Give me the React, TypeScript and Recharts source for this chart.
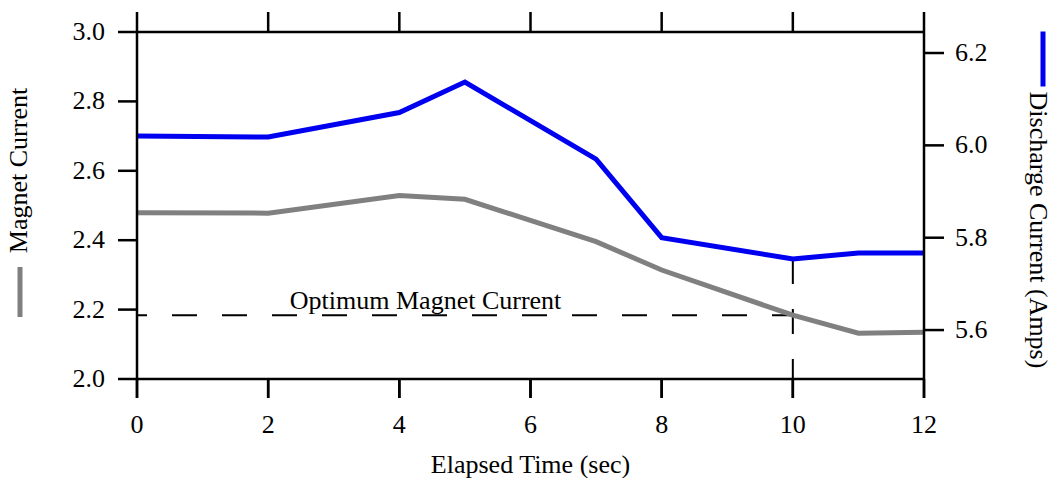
import React from 'react';
import { LineChart, Line, XAxis, YAxis, ReferenceLine } from 'recharts';

// Elapsed time samples (sec)
const times = [0, 2, 4, 5, 7, 8, 10, 11, 12];
// Magnet current, left axis
const magnetCurrent = [2.479, 2.478, 2.529, 2.518, 2.396, 2.314, 2.184, 2.132, 2.135];
// Discharge current (Amps), right axis
const dischargeCurrent = [6.02, 6.018, 6.071, 6.137, 5.97, 5.8, 5.754, 5.767, 5.767];

const timeTicks = [0, 2, 4, 6, 8, 10, 12];
const magnetTicks = [2.0, 2.2, 2.4, 2.6, 2.8, 3.0];
const dischargeTicks = [5.6, 5.8, 6.0, 6.2];

const magnetDomain: [number, number] = [2.0, 3.0];
const dischargeDomain: [number, number] = [5.494, 6.2455];

const optimumMagnetCurrent = 2.184;
const optimumTime = 10;

const rows = times.map((t, i) => ({
  t,
  magnet: magnetCurrent[i],
  discharge: dischargeCurrent[i],
}));

const optimumDischarge = dischargeCurrent[times.indexOf(optimumTime)];

// Layout
const W = 1053;
const H = 478;
const LEFT_W = 137;
const RIGHT_W = 129;
const TOP_H = 32;
const BOTTOM_H = 99;
const PLOT_LEFT = LEFT_W;
const PLOT_RIGHT = W - RIGHT_W;
const PLOT_TOP = TOP_H;
const PLOT_BOTTOM = H - BOTTOM_H;
const TICK_LEN = 19;

const FONT = '"Liberation Serif", "Times New Roman", serif';
const FS = 26;
const BLUE = '#0000f0';
const GRAY = '#808080';
const AXIS = { stroke: '#000', strokeWidth: 2.5 };

const fmt1 = (v: number) => v.toFixed(1);

// Bottom time ticks: a short mark below the frame plus the value
const BottomTick = (props: any) => {
  const c = props.payload?.coordinate ?? props.x;
  return (
    <g>
      <rect x={c - 1.25} y={PLOT_BOTTOM} width={2.5} height={TICK_LEN} fill="#000" />
      <text x={c} y={PLOT_BOTTOM + 54} textAnchor="middle" fontSize={FS} fontFamily={FONT} fill="#000">
        {props.payload.value}
      </text>
    </g>
  );
};

// Top time ticks: marks above the frame, no values
const TopTick = (props: any) => {
  const c = props.payload?.coordinate ?? props.x;
  return <rect x={c - 1.25} y={PLOT_TOP - 20} width={2.5} height={20} fill="#000" />;
};

const LeftTick = (props: any) => {
  const c = props.payload?.coordinate ?? props.y;
  return (
    <g>
      <rect x={PLOT_LEFT - TICK_LEN} y={c - 1.25} width={TICK_LEN} height={2.5} fill="#000" />
      <text x={PLOT_LEFT - 32} y={c + 8} textAnchor="end" fontSize={FS} fontFamily={FONT} fill="#000">
        {fmt1(props.payload.value)}
      </text>
    </g>
  );
};

const RightTick = (props: any) => {
  const c = props.payload?.coordinate ?? props.y;
  return (
    <g>
      <rect x={PLOT_RIGHT} y={c - 1.25} width={20} height={2.5} fill="#000" />
      <text x={PLOT_RIGHT + 31} y={c + 8} textAnchor="start" fontSize={FS} fontFamily={FONT} fill="#000">
        {fmt1(props.payload.value)}
      </text>
    </g>
  );
};

const XTitle = (props: any) => {
  const { x, width } = props.viewBox;
  return (
    <text x={x + width / 2} y={PLOT_BOTTOM + 94} textAnchor="middle" fontSize={FS} fontFamily={FONT} fill="#000">
      Elapsed Time (sec)
    </text>
  );
};

const MagnetTitle = () => {
  const cy = (PLOT_TOP + PLOT_BOTTOM) / 2;
  return (
    <g>
      <text
        x={27}
        y={cy - 35}
        transform={`rotate(-90 27 ${cy - 35})`}
        textAnchor="middle"
        fontSize={FS}
        fontFamily={FONT}
        fill="#000"
      >
        Magnet Current
      </text>
      <rect x={17.5} y={cy + 61.5} width={5} height={50} fill={GRAY} />
    </g>
  );
};

const DischargeTitle = () => {
  const cy = (PLOT_TOP + PLOT_BOTTOM) / 2;
  const bx = PLOT_RIGHT + 106;
  return (
    <g>
      <text
        x={bx}
        y={cy + 24.5}
        transform={`rotate(90 ${bx} ${cy + 24.5})`}
        textAnchor="middle"
        fontSize={FS}
        fontFamily={FONT}
        fill="#000"
      >
        Discharge Current (Amps)
      </text>
      <rect x={PLOT_RIGHT + 116.5} y={cy - 174} width={5} height={55} fill={BLUE} />
    </g>
  );
};

// Label of the optimum line; it also redraws the lower time tick marks on the top layer,
// spacing them from the line's own scaled span (time 0 .. optimumTime).
const OptimumLabel = (props: any) => {
  const { x, y, width } = props.viewBox;
  const pxPerSec = width / optimumTime;
  return (
    <g>
      <text x={x + width * 0.44} y={y - 6} textAnchor="middle" fontSize={FS} fontFamily={FONT} fill="#000">
        Optimum Magnet Current
      </text>
      {timeTicks.map((t) => (
        <rect
          key={t}
          x={x + t * pxPerSec - 1.25}
          y={PLOT_BOTTOM}
          width={2.5}
          height={TICK_LEN}
          fill="#000"
        />
      ))}
    </g>
  );
};

export default function App() {
  return (
    <div style={{ position: 'absolute', left: 0, top: 0, width: W, height: H, background: '#fff' }}>
      <LineChart width={W} height={H} data={rows} margin={{ top: 0, right: 0, bottom: 0, left: 0 }}>
        <XAxis
          xAxisId="top"
          orientation="top"
          dataKey="t"
          type="number"
          domain={[0, 12]}
          ticks={timeTicks}
          height={TOP_H}
          axisLine={AXIS}
          tickLine={false}
          tick={TopTick}
        />
        <XAxis
          xAxisId="bottom"
          dataKey="t"
          type="number"
          domain={[0, 12]}
          ticks={timeTicks}
          height={BOTTOM_H}
          axisLine={AXIS}
          tickLine={false}
          tick={BottomTick}
          label={{ content: XTitle }}
        />
        <YAxis
          yAxisId="left"
          type="number"
          domain={magnetDomain}
          ticks={magnetTicks}
          width={LEFT_W}
          axisLine={AXIS}
          tickLine={false}
          tick={LeftTick}
          label={{ content: MagnetTitle }}
        />
        <YAxis
          yAxisId="right"
          orientation="right"
          type="number"
          domain={dischargeDomain}
          ticks={dischargeTicks}
          width={RIGHT_W}
          axisLine={AXIS}
          tickLine={false}
          tick={RightTick}
          label={{ content: DischargeTitle }}
        />
        <ReferenceLine
          xAxisId="bottom"
          yAxisId="right"
          segment={[
            { x: optimumTime, y: optimumDischarge },
            { x: optimumTime, y: dischargeDomain[0] },
          ]}
          stroke="#000"
          strokeWidth={2}
          strokeDasharray="25 25"
        />
        <ReferenceLine
          xAxisId="bottom"
          yAxisId="left"
          segment={[
            { x: 0, y: optimumMagnetCurrent },
            { x: optimumTime, y: optimumMagnetCurrent },
          ]}
          stroke="#000"
          strokeWidth={2}
          strokeDasharray="25 25"
          strokeDashoffset={15}
          label={{ content: OptimumLabel }}
        />
        <Line
          xAxisId="bottom"
          yAxisId="left"
          dataKey="magnet"
          stroke={GRAY}
          strokeWidth={5}
          strokeLinejoin="miter"
          dot={false}
          type="linear"
          isAnimationActive={false}
        />
        <Line
          xAxisId="bottom"
          yAxisId="right"
          dataKey="discharge"
          stroke={BLUE}
          strokeWidth={5}
          strokeLinejoin="miter"
          dot={false}
          type="linear"
          isAnimationActive={false}
        />
      </LineChart>
    </div>
  );
}
